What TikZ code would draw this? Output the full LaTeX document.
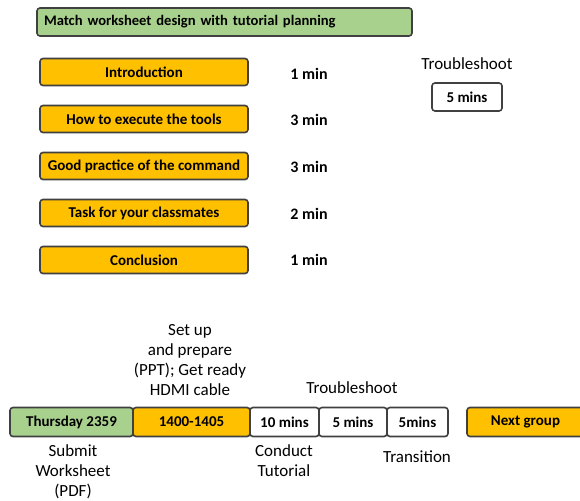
\documentclass[tikz,border=0pt]{standalone}
\usepackage{fontspec}
\setmainfont{Carlito}
\usepackage{xcolor}
\usetikzlibrary{positioning}

\definecolor{planGreen}{HTML}{A9D18E}
\definecolor{planYellow}{HTML}{FFC000}
\definecolor{planLine}{HTML}{404040}

\begin{document}
\begin{tikzpicture}[x=1pt, y=-1pt,
  box/.style={draw=planLine, line width=1.6pt, rounded corners=3pt, inner sep=0pt,
    font=\fontsize{15}{17}\selectfont\bfseries, align=center},
  task/.style={box, fill=planYellow, minimum width=208pt, minimum height=27pt},
  slot/.style={box, minimum height=29pt},
  mins/.style={font=\fontsize{16}{18}\selectfont\bfseries},
  lbl/.style={font=\fontsize{17}{20}\selectfont, align=center}]
\useasboundingbox (0,0) rectangle (580,500);

% planning list
\node[box, fill=planGreen, minimum height=28pt, text width=361pt, inner xsep=7pt, align=left,
  font=\fontsize{14.6}{17}\selectfont\bfseries] (head) at (224.5,22) {Match worksheet design with tutorial planning};
\node[task] (intro) at (144,72) {Introduction};
\node[task] (tools) at (144,119) {How to execute the tools};
\node[task] (practice) at (144,166) {Good practice of the command};
\node[task] (classtask) at (144,213) {Task for your classmates};
\node[task] (concl) at (144,260) {Conclusion};

\node[mins] (introT) at (309,74) {1 min};
\node[mins] (toolsT) at (309,120) {3 min};
\node[mins] (practiceT) at (309,167) {3 min};
\node[mins] (classtaskT) at (309,214) {2 min};
\node[mins] (conclT) at (309,260) {1 min};

\node[lbl] (fixLbl) at (467,64) {Troubleshoot};
\node[box, minimum width=70pt, minimum height=28pt] (fix) at (467,97) {5 mins};

% timeline
\node[slot, fill=planGreen, minimum width=123pt] (thu) at (71.5,422) {Thursday 2359};
\node[slot, fill=planYellow, minimum width=117pt] (setup) at (191.5,422) {1400-1405};
\node[slot, fill=white, minimum width=69pt] (tut) at (284.5,422) {10 mins};
\node[slot, fill=white, minimum width=68pt] (shoot) at (353,422) {5 mins};
\node[slot, fill=white, minimum width=61pt] (trans) at (417.5,422) {5mins};
\node[slot, fill=planYellow, minimum width=117pt] (next) at (525.5,422) {Next group};

\node[lbl] (setupLbl) at (190,360.5) {Set up\\and prepare\\(PPT); Get ready\\HDMI cable};
\node[lbl] (shootLbl) at (352,388) {Troubleshoot};
\node[lbl] (thuLbl) at (73,472) {Submit\\Worksheet\\(PDF)};
\node[lbl] (tutLbl) at (284,461) {Conduct\\Tutorial};
\node[lbl] (transLbl) at (417,457) {Transition};

\end{tikzpicture}
\end{document}
